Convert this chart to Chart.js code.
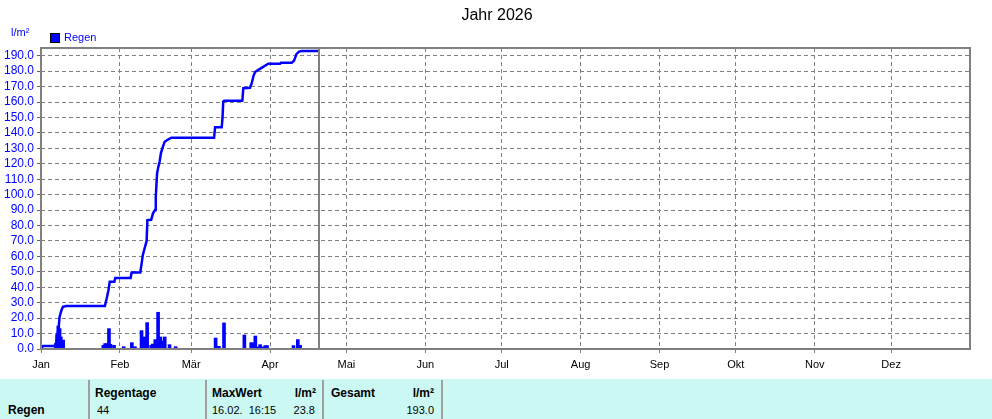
<!DOCTYPE html>
<html>
<head>
<meta charset="utf-8">
<title>Jahr 2026</title>
<script src="https://cdn.jsdelivr.net/npm/chart.js@4.4.1/dist/chart.umd.min.js"></script>
<style>
  body { margin: 0; background: #fff; font-family: "Liberation Sans", Arial, sans-serif; }
  #wrap { position: relative; width: 992px; height: 419px; overflow: hidden; }
  #chart { position: absolute; left: 0; top: 0; }
  #stats { position: absolute; left: 0; top: 379px; width: 992px; height: 40px; background: #ccf8f4; }
  .sep { position: absolute; top: 1px; bottom: 0; width: 2px; background: #a0a0a0; }
  .t { position: absolute; font-size: 11px; line-height: 13px; color: #000; white-space: pre; }
  .b { font-weight: bold; font-size: 12px; }
</style>
</head>
<body>
<div id="wrap">
  <canvas id="chart" width="992" height="378"></canvas>
  <div id="stats">
    <div class="sep" style="left:88px"></div>
    <div class="sep" style="left:205px"></div>
    <div class="sep" style="left:322px"></div>
    <div class="sep" style="left:441px"></div>
    <div class="t b" style="left:8px;top:25px">Regen</div>
    <div class="t b" style="left:95px;top:8px">Regentage</div>
    <div class="t" id="rainDays" style="left:97px;top:25px"></div>
    <div class="t b" style="left:212px;top:8px">MaxWert</div>
    <div class="t b" style="right:676px;top:8px">l/m²</div>
    <div class="t" id="maxTime" style="left:212px;top:25px"></div>
    <div class="t" id="maxValue" style="right:677px;top:25px"></div>
    <div class="t b" style="left:331px;top:8px">Gesamt</div>
    <div class="t b" style="right:558px;top:8px">l/m²</div>
    <div class="t" id="total" style="right:558px;top:25px"></div>
  </div>
</div>
<script>
// x axis = day of year (0 = 1. Jan)
const monthNames = ["Jan", "Feb", "Mär", "Apr", "Mai", "Jun", "Jul", "Aug", "Sep", "Okt", "Nov", "Dez"];
const monthStarts = [0, 31, 59, 90, 120, 151, 181, 212, 243, 273, 304, 334];
const yTicks = [0, 10, 20, 30, 40, 50, 60, 70, 80, 90, 100, 110, 120, 130, 140, 150, 160, 170, 180, 190];

// Regen kumuliert
const sumDays = [0, 0.8, 5.5, 6.0, 6.5, 7.0, 7.3, 8.0, 8.6, 9.9,
  25.1, 25.8, 26.5, 27.0, 28.8, 29.2, 35.2, 35.6, 39.0, 39.5,
  40.0, 40.5, 41.0, 41.5, 41.8, 43.3, 44.0, 44.8, 45.1, 45.6,
  46.1, 46.6, 47.1, 47.9, 48.6, 49.6, 51.2, 68.0, 68.4, 71.0,
  71.3, 71.6, 72.0, 79.1, 79.5, 82.1, 82.8, 83.5, 84.1, 86.0,
  88.0, 89.3, 93.9, 94.3, 98.5, 99.4, 100.4, 101.4, 102.5, 109.2];
const sumValues = [0, 1.9, 1.9, 4.0, 9.0, 15.0, 20.8, 25.0, 27.3, 27.9,
  27.9, 32.7, 38.1, 43.5, 43.5, 46.0, 46.0, 49.6, 49.6, 55.0,
  60.8, 64.0, 67.0, 70.0, 83.5, 83.7, 87.9, 90.0, 98.6, 113.8,
  118.0, 121.3, 126.8, 131.1, 134.3, 135.4, 136.9, 136.9, 143.7, 143.7,
  149.5, 160.3, 160.9, 160.9, 169.0, 169.2, 172.2, 177.0, 179.4, 181.5,
  183.5, 184.8, 184.8, 185.4, 185.4, 186.7, 191.2, 192.7, 193.0, 193.0];

// Regen Einzelwerte
const barDays = [5.8, 6.3, 6.8, 7.3, 7.8, 8.7, 24.5, 25.2, 25.9, 26.7,
  27.3, 28.7, 32.5, 35.7, 36.9, 39.5, 40.8, 41.7, 43.3, 43.9,
  44.9, 46.0, 46.9, 47.5, 48.6, 50.5, 52.9, 68.6, 69.9, 71.9,
  79.9, 82.6, 83.1, 84.2, 85.0, 86.1, 86.9, 88.1, 88.8, 99.2,
  100.9, 101.8];
const barValues = [3.5, 9.3, 14.9, 13.2, 7.8, 5.8, 2.4, 3.5, 3.5, 13.2,
  3.0, 2.4, 1.5, 4.1, 1.5, 11.9, 7.8, 17.1, 2.4, 3.2,
  6.1, 23.8, 7.8, 5.2, 7.8, 2.8, 1.5, 7.1, 1.7, 16.9,
  9.1, 4.1, 3.9, 8.4, 1.3, 2.8, 1.3, 2.2, 2.2, 2.2,
  6.1, 2.4];

const todayDay = 109.2;
const rainDays = "44";
const maxTime = "16.02.  16:15";
const maxValue = "23.8";
const total = "193.0";

document.getElementById("rainDays").textContent = rainDays;
document.getElementById("maxTime").textContent = maxTime;
document.getElementById("maxValue").textContent = maxValue;
document.getElementById("total").textContent = total;

const blue = "#0000ff";
const gray = "#808080";
const font = '"Liberation Sans", Arial, sans-serif';
Chart.defaults.font.family = font;

const framePlugin = {
  id: "frame",
  afterDatasetsDraw(chart) {
    const { ctx, chartArea: a, scales } = chart;
    ctx.save();
    ctx.strokeStyle = gray;
    ctx.lineWidth = 2;
    const xt = Math.round(scales.x.getPixelForValue(todayDay));
    ctx.beginPath();
    ctx.moveTo(xt, a.top);
    ctx.lineTo(xt, a.bottom);
    ctx.stroke();
    ctx.strokeRect(a.left, a.top, a.right - a.left, a.bottom - a.top);
    ctx.restore();
  },
  afterDraw(chart) {
    const ctx = chart.ctx;
    ctx.save();
    ctx.textBaseline = "middle";
    ctx.fillStyle = "#000";
    ctx.font = "16px " + font;
    ctx.textAlign = "center";
    ctx.fillText("Jahr 2026", 497, 16);
    ctx.textAlign = "left";
    ctx.font = "11px " + font;
    ctx.fillStyle = blue;
    ctx.fillText("l/m²", 11, 33);
    ctx.fillRect(50, 33, 10, 10);
    ctx.strokeStyle = "#000";
    ctx.lineWidth = 1;
    ctx.strokeRect(50.5, 33.5, 9, 9);
    ctx.fillText("Regen", 64, 38);
    ctx.restore();
  }
};

new Chart(document.getElementById("chart"), {
  data: {
    datasets: [
      {
        type: "line",
        label: "Regen kumuliert",
        data: sumDays.map((d, i) => ({ x: d, y: sumValues[i] })),
        borderColor: blue,
        borderWidth: 2.5,
        pointRadius: 0,
        tension: 0,
        order: 0,
      },
      {
        type: "bar",
        label: "Regen",
        data: barDays.map((d, i) => ({ x: d, y: barValues[i] })),
        backgroundColor: blue,
        borderWidth: 0,
        barThickness: 3,
        order: 1,
      },
    ],
  },
  options: {
    responsive: false,
    animation: false,
    layout: { padding: { top: 48, right: 22, left: 0, bottom: 0 } },
    plugins: {
      legend: { display: false },
      title: { display: false },
      tooltip: { enabled: false },
    },
    scales: {
      x: {
        type: "linear",
        min: 0,
        max: 365,
        offset: false,
        afterBuildTicks: (scale) => { scale.ticks = monthStarts.map((v) => ({ value: v })); },
        afterFit: (scale) => { scale.height = 29; },
        ticks: {
          autoSkip: false,
          maxRotation: 0,
          padding: 5,
          color: "#000",
          font: { size: 11 },
          callback: (value, index) => monthNames[index],
        },
        grid: { offset: false, color: gray, lineWidth: 1, tickLength: 4, tickColor: gray },
        border: { display: false, dash: [4, 3] },
      },
      y: {
        min: 0,
        max: 195,
        afterBuildTicks: (scale) => { scale.ticks = yTicks.map((v) => ({ value: v })); },
        afterFit: (scale) => { scale.width = 41; },
        ticks: {
          autoSkip: false,
          padding: 3,
          color: blue,
          font: { size: 12 },
          callback: (value) => value.toFixed(1),
        },
        grid: { color: gray, lineWidth: 1, tickLength: 4, tickColor: "#606060" },
        border: { display: false, dash: [4, 3] },
      },
    },
  },
  plugins: [framePlugin],
});
</script>
</body>
</html>
